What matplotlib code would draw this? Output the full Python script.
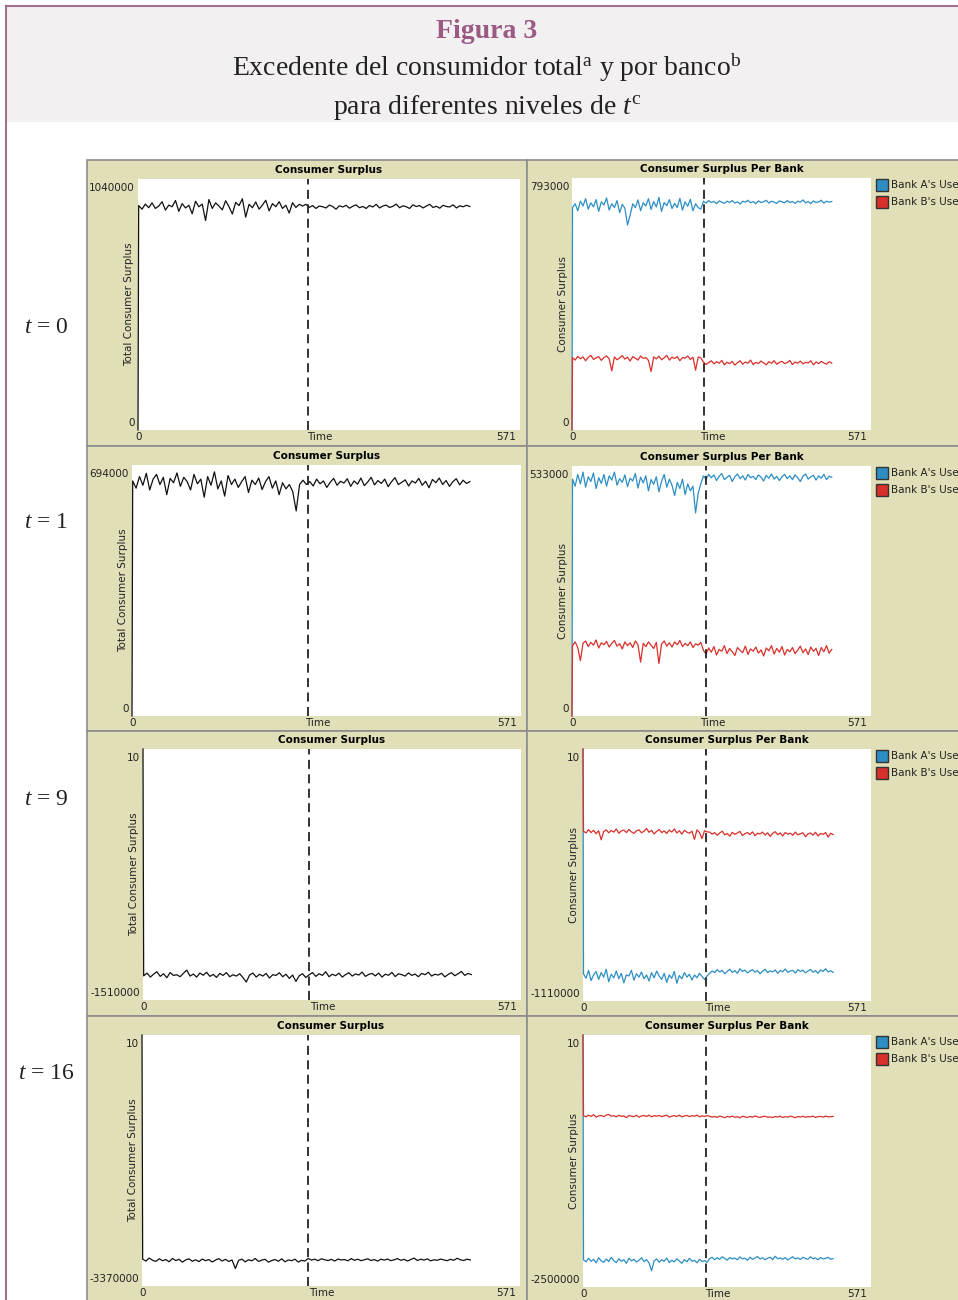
import matplotlib
matplotlib.use("Agg")
import matplotlib.pyplot as plt
from matplotlib.patches import Rectangle
from matplotlib.lines import Line2D

W, H = 958, 1300

plt.rcParams['mathtext.fontset'] = 'custom'
plt.rcParams['mathtext.rm'] = 'Liberation Serif'
plt.rcParams['mathtext.it'] = 'Liberation Serif:italic'

# sampled ticks: tick 0 then every 5 ticks up to ~500
ticks = [0] + list(range(1, 500, 5))

# values in thousands (first value = tick 0)
t0_total = [0,
    930, 915, 936, 921, 941, 918, 928, 946, 911, 932, 925, 951, 906, 938, 920, 931, 896, 948, 925, 936, 868, 955, 918, 941, 928,
    912, 950, 925, 895, 943, 930, 958, 882, 935, 921, 945, 915, 932, 952, 908, 938, 925, 946, 918, 931, 899, 942, 922, 935, 928,
    935, 922, 930, 918, 928, 925, 920, 932, 926, 915, 929, 924, 931, 919, 927, 933, 921, 926, 918, 930, 924, 935, 920, 928, 932,
    922, 927, 936, 921, 929, 925, 918, 933, 926, 930, 920, 928, 935, 922, 927, 919, 931, 926, 924, 933, 920, 929, 925, 931, 926]
t0_bank_a = [0,
    700, 712, 690, 720, 705, 728, 695, 715, 702, 725, 688, 718, 708, 730, 692, 712, 700, 722, 684, 710, 698, 645, 676, 712, 700,
    724, 690, 715, 705, 728, 694, 719, 702, 732, 688, 716, 706, 725, 697, 713, 700, 729, 692, 718, 704, 726, 690, 712, 700, 695,
    720, 714, 722, 716, 719, 712, 721, 717, 713, 720, 716, 722, 714, 718, 711, 720, 717, 723, 715, 719, 712, 721, 716, 718, 723,
    714, 720, 717, 713, 721, 718, 715, 722, 716, 719, 713, 720, 717, 724, 715, 719, 712, 721, 716, 718, 723, 714, 720, 717, 719]
t0_bank_b = [0,
    228, 220, 232, 224, 230, 218, 229, 235, 222, 227, 231, 219, 228, 233, 224, 186, 230, 221, 227, 234, 223, 229, 217, 231, 226,
    220, 233, 225, 228, 219, 184, 230, 224, 232, 221, 227, 235, 220, 229, 225, 231, 218, 228, 226, 233, 222, 229, 188, 230, 227,
    214, 206, 212, 218, 208, 215, 210, 219, 205, 213, 209, 216, 204, 212, 218, 207, 214, 210, 220, 206, 213, 209, 217, 211, 205,
    215, 210, 218, 207, 213, 216, 209, 212, 219, 206, 214, 210, 217, 208, 213, 211, 218, 205, 214, 209, 216, 211, 207, 215, 210]

t1_total = [0,
    650, 630, 662, 638, 671, 625, 655, 668, 640, 660, 612, 657, 645, 672, 635, 660, 648, 625, 668, 642, 655, 605, 662, 638, 675,
    628, 650, 608, 665, 640, 655, 632, 648, 662, 618, 652, 640, 658, 626, 648, 662, 630, 650, 612, 645, 628, 640, 620, 567, 640,
    652, 640, 648, 636, 655, 642, 650, 632, 646, 657, 638, 649, 644, 656, 635, 650, 641, 658, 637, 647, 660, 639, 651, 643, 655,
    634, 648, 659, 640, 646, 653, 636, 650, 644, 657, 638, 649, 631, 654, 645, 658, 640, 651, 635, 648, 656, 639, 652, 643, 648]
t1_bank_a = [0,
    505, 490, 515, 495, 520, 488, 510, 500, 518, 485, 508, 496, 515, 490, 512, 503, 520, 492, 506, 498, 514, 489, 507, 501, 517,
    486, 509, 497, 512, 480, 504, 494, 510, 478, 500, 515, 488, 505, 492, 470, 498, 485, 505, 472, 495, 480, 490, 433, 475, 495,
    512, 505, 515, 508, 514, 502, 511, 517, 504, 509, 513, 500, 510, 516, 506, 512, 503, 515, 508, 511, 504, 514, 509, 501, 513,
    507, 516, 505, 511, 502, 510, 515, 506, 512, 504, 514, 508, 500, 511, 516, 505, 510, 513, 503, 512, 507, 515, 504, 511, 509]
t1_bank_b = [0,
    150, 158, 146, 118, 155, 160, 148, 157, 151, 162, 145, 156, 152, 159, 147, 155, 161, 149, 154, 143, 158, 150, 156, 146, 160,
    152, 115, 155, 148, 158, 151, 144, 157, 112, 153, 160, 149, 156, 147, 158, 152, 161, 148, 155, 150, 158, 146, 154, 151, 157,
    140, 132, 145, 136, 148, 130, 142, 138, 150, 133, 144, 137, 129, 146, 140, 135, 149, 131, 143, 138, 147, 134, 141, 128, 145,
    139, 150, 132, 144, 136, 148, 130, 142, 137, 146, 133, 140, 149, 135, 143, 131, 147, 138, 144, 129, 146, 137, 150, 134, 142]

t9_total = [0,
    -1365, -1348, -1372, -1355, -1340, -1368, -1352, -1376, -1345, -1362, -1358, -1370, -1350, -1330, -1366, -1354, -1372,
    -1348, -1361, -1343, -1368, -1356, -1374, -1350, -1362, -1345, -1370, -1358, -1366, -1352, -1375, -1402, -1360, -1348,
    -1372, -1355, -1366, -1350, -1378, -1358, -1362, -1346, -1370, -1355, -1380, -1360, -1398, -1364, -1352, -1375,
    -1358, -1345, -1368, -1352, -1362, -1340, -1370, -1355, -1364, -1348, -1372, -1357, -1346, -1366, -1353, -1360, -1342,
    -1368, -1356, -1350, -1365, -1348, -1372, -1355, -1361, -1344, -1369, -1352, -1358, -1366, -1347, -1362, -1354, -1370,
    -1350, -1358, -1343, -1366, -1355, -1360, -1349, -1371, -1356, -1346, -1364, -1352, -1338, -1362, -1350, -1357]
t9_bank_a = [0,
    -990, -1010, -975, -1020, -995, -980, -1015, -985, -1005, -970, -1025, -992, -1008, -978, -1012, -988, -1030, -995,
    -1000, -975, -1018, -990, -1005, -982, -1012, -995, -1022, -985, -1008, -978, -1000, -1015, -988, -1028, -995, -1010,
    -980, -1032, -998, -1012, -985, -1005, -992, -1018, -995, -1008, -988, -1002, -1015, -1000,
    -988, -978, -985, -972, -982, -975, -990, -980, -970, -984, -976, -988, -968, -980, -974, -986, -978, -972, -983, -976,
    -990, -979, -970, -985, -977, -982, -973, -988, -976, -981, -969, -984, -978, -975, -987, -972, -980, -974, -986, -978,
    -971, -983, -976, -988, -973, -980, -968, -982, -977, -984]
t9_bank_b = [0,
    -362, -370, -355, -368, -358, -373, -360, -400, -364, -356, -369, -359, -366, -352, -371, -361, -357, -368, -354, -365,
    -372, -360, -356, -369, -362, -350, -367, -358, -374, -363, -355, -368, -361, -372, -357, -366, -352, -370, -360, -375,
    -358, -366, -371, -362, -398, -356, -368, -395, -360, -365,
    -366, -375, -368, -380, -370, -362, -378, -372, -384, -367, -376, -370, -363, -381, -373, -368, -377, -365, -382, -371,
    -374, -366, -379, -369, -385, -372, -364, -377, -370, -383, -368, -375, -371, -380, -366, -378, -373, -369, -386, -374,
    -370, -379, -367, -383, -372, -376, -368, -388, -371, -377]

t16_total = [0,
    -3010, -3035, -2995, -3025, -3040, -3005, -3030, -3015, -3045, -3000, -3028, -3012, -3050, -3020, -3005, -3038, -3018,
    -3042, -3008, -3030, -3015, -3048, -3022, -3002, -3035, -3012, -3040, -3020, -3135, -3025, -3010, -3045, -3018, -3032,
    -3000, -3040, -3022, -3012, -3050, -3028, -3015, -3038, -3005, -3045, -3020, -3030, -3010, -3048, -3025, -3035,
    -3000, -3022, -3010, -3030, -3005, -3018, -3028, -3012, -3035, -3008, -3020, -3015, -3032, -3002, -3025, -3010, -3030,
    -3018, -3005, -3028, -3015, -3036, -3010, -3022, -3008, -3030, -3018, -3002, -3025, -3012, -3035, -3015, -2995, -3028,
    -3010, -3022, -3006, -3032, -3018, -3025, -3008, -3020, -3030, -3012, -3025, -2998, -3018, -3028, -3010, -3020]
t16_bank_a = [0,
    -2230, -2250, -2215, -2245, -2225, -2260, -2210, -2240, -2255, -2222, -2248, -2205, -2238, -2258, -2220, -2245, -2230,
    -2265, -2215, -2240, -2225, -2252, -2235, -2210, -2248, -2228, -2262, -2338, -2240, -2222, -2255, -2230, -2245, -2212,
    -2258, -2235, -2250, -2220, -2242, -2265, -2228, -2250, -2215, -2245, -2235, -2260, -2225, -2248, -2238, -2255,
    -2220, -2205, -2228, -2210, -2225, -2200, -2218, -2232, -2208, -2222, -2212, -2230, -2202, -2220, -2215, -2235, -2205,
    -2225, -2212, -2198, -2222, -2210, -2230, -2215, -2205, -2228, -2195, -2220, -2212, -2225, -2208, -2232, -2215, -2200,
    -2222, -2210, -2228, -2205, -2218, -2225, -2200, -2220, -2212, -2230, -2208, -2222, -2215, -2205, -2225, -2218]
t16_bank_b = [0,
    -800, -812, -795, -808, -790, -815, -802, -798, -810, -795, -788, -806, -800, -812, -796, -808, -802, -820, -798, -805,
    -810, -796, -815, -803, -798, -808, -795, -812, -800, -806, -798, -810, -802, -796, -815, -805, -800, -808, -795, -812,
    -803, -798, -810, -800, -806, -795, -812, -802, -808, -800,
    -806, -815, -808, -818, -804, -812, -820, -808, -814, -805, -816, -810, -822, -806, -812, -818, -808, -815, -804, -812,
    -818, -810, -806, -816, -812, -820, -808, -814, -806, -818, -810, -815, -805, -812, -820, -808, -814, -806, -816, -810,
    -812, -805, -818, -810, -808, -815, -804, -812, -810, -808]

row_labels = ['0', '1', '9', '16']
total_series = [t0_total, t1_total, t9_total, t16_total]
bank_a_series = [t0_bank_a, t1_bank_a, t9_bank_a, t16_bank_a]
bank_b_series = [t0_bank_b, t1_bank_b, t9_bank_b, t16_bank_b]
total_ylims = [(0, 1040000), (0, 694000), (-1510000, 10), (-3370000, 10)]
bank_ylims = [(0, 793000), (0, 533000), (-1110000, 10), (-2500000, 10)]
# tick of the dashed marker in each plot
total_marker = [254, 259, 251, 251]
bank_marker = [253, 255, 244, 244]
x_max = 571

KHAKI = '#e0dfb7'
BLUE = '#2c8ec5'
RED = '#d8302a'
MAUVE = '#a07090'


def fx(x):
    return x / W


def fy(y):
    return 1 - y / H


fig = plt.figure(figsize=(W / 100, H / 100), dpi=100)
fig.patch.set_facecolor('white')

# header band
fig.patches.append(Rectangle((fx(6), fy(122)), fx(958) - fx(6), fy(6) - fy(122),
                             transform=fig.transFigure, facecolor='#f3f0f2', edgecolor='none', zorder=-2))
fig.lines.append(Line2D([fx(6), fx(6)], [fy(6), fy(1300)], transform=fig.transFigure, color=MAUVE, lw=1.5))
fig.lines.append(Line2D([fx(6), fx(958)], [fy(6), fy(6)], transform=fig.transFigure, color=MAUVE, lw=1.5))

fig.text(fx(487), fy(38), 'Figura 3', ha='center', va='baseline', fontsize=20, fontweight='bold',
         family='Liberation Serif', color='#9a5a84')
fig.text(fx(487), fy(76), r'Excedente del consumidor total$^{\mathrm{a}}$ y por banco$^{\mathrm{b}}$',
         ha='center', va='baseline', fontsize=20, family='Liberation Serif', color='#222222')
fig.text(fx(487), fy(114), r'para diferentes niveles de $t^{\mathrm{c}}$',
         ha='center', va='baseline', fontsize=20, family='Liberation Serif', color='#222222')

widget_tops = [160, 446, 731, 1016]
widget_bottoms = [446, 731, 1016, 1303]
label_baselines = [333, 528, 805, 1079]
left_boxes = [(138, 179, 520, 430), (132, 465, 521, 716), (143, 749, 521, 1000), (142, 1035, 520, 1286)]
right_boxes = [(572, 178, 871, 430), (572, 466, 871, 716), (583, 749, 871, 1001), (583, 1035, 871, 1287)]

FS = 7.5


def netlogo_plot(box, title, ylabel, ylim, marker):
    l, t, r, b = box
    ax = fig.add_axes([fx(l), fy(b), (r - l) / W, (b - t) / H])
    ax.set_zorder(2)
    ax.set_facecolor('white')
    ax.set_xticks([])
    ax.set_yticks([])
    for s in ax.spines.values():
        s.set_visible(False)
    ax.set_xlim(0, x_max)
    ax.set_ylim(*ylim)
    ax.axvline(marker, color='#222222', lw=1.3, ls=(0, (5, 3)), zorder=5)
    fig.text(fx((l + r) / 2), fy(t - 9), title, ha='center', va='center', fontsize=FS, fontweight='bold')
    fig.text(fx(l - 3), fy(t + 4), str(ylim[1]), ha='right', va='top', fontsize=FS, color='#222222')
    fig.text(fx(l - 3), fy(b - 2), str(ylim[0]), ha='right', va='bottom', fontsize=FS, color='#222222')
    fig.text(fx(l - 4), fy((t + b) / 2), ylabel, ha='right', va='center', rotation=90, fontsize=FS, color='#222222')
    fig.text(fx(l + 1), fy(b + 2), '0', ha='center', va='top', fontsize=FS, color='#222222')
    fig.text(fx((l + r) / 2 - 9), fy(b + 2), 'Time', ha='center', va='top', fontsize=FS, color='#222222')
    fig.text(fx(r - 4), fy(b + 2), str(x_max), ha='right', va='top', fontsize=FS, color='#222222')
    return ax


for i in range(4):
    top, bot = widget_tops[i], widget_bottoms[i]
    for x0, x1 in [(87, 527), (527, 962)]:
        fig.patches.append(Rectangle((fx(x0), fy(bot)), (x1 - x0) / W, (bot - top) / H,
                                     transform=fig.transFigure, facecolor=KHAKI, edgecolor='#8c8c8c',
                                     lw=1.2, zorder=-1))

    fig.text(fx(46), fy(label_baselines[i]), '$t$ = ' + row_labels[i], ha='center', va='baseline',
             fontsize=17, family='Liberation Serif', color='#222222')

    ax = netlogo_plot(left_boxes[i], 'Consumer Surplus', 'Total Consumer Surplus', total_ylims[i], total_marker[i])
    ax.plot(ticks, [v * 1000 for v in total_series[i]], color='#111111', lw=0.9, clip_on=False)

    ax = netlogo_plot(right_boxes[i], 'Consumer Surplus Per Bank', 'Consumer Surplus', bank_ylims[i], bank_marker[i])
    ax.plot(ticks, [v * 1000 for v in bank_a_series[i]], color=BLUE, lw=0.9, clip_on=False)
    ax.plot(ticks, [v * 1000 for v in bank_b_series[i]], color=RED, lw=0.9, clip_on=False)

    # legend (cut off by the right edge, as in the screenshot)
    lt = right_boxes[i][1]
    for k, (name, col) in enumerate([("Bank A's Users", BLUE), ("Bank B's Users", RED)]):
        y0 = lt + 1 + 17 * k
        fig.patches.append(Rectangle((fx(876), fy(y0 + 12)), 12 / W, 12 / H, transform=fig.transFigure,
                                     facecolor=col, edgecolor='#333333', lw=1, zorder=3))
        fig.text(fx(891), fy(y0 + 6), name, ha='left', va='center', fontsize=FS, color='#222222')

fig.savefig('out.png', dpi=100)
